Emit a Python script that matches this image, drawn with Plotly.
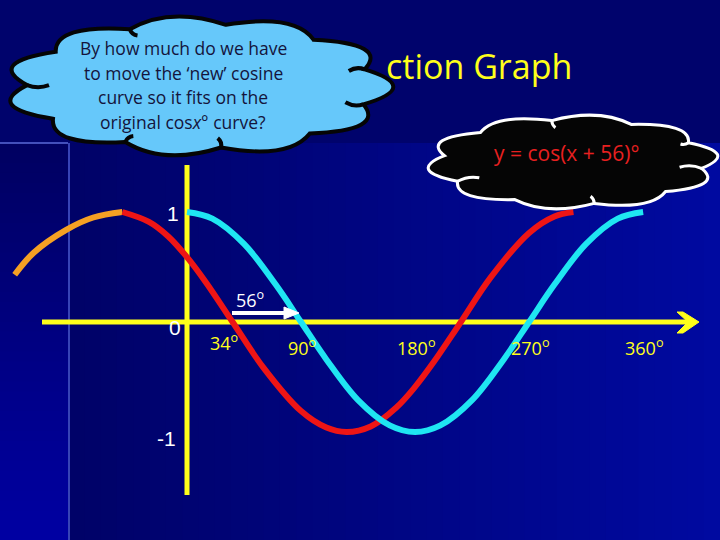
import math
import plotly.graph_objects as go

# ---------------- data ----------------
orange_deg = [-136, -121, -95, -74, -51]
orange_val = [0.43, 0.63, 0.84, 0.95, 1.0]

red_deg = [-51, -30, -15, 0, 15, 36, 60, 90, 110, 126, 145, 165, 180, 195, 215, 240, 270, 290, 305]
red_val = [1.0, 0.91, 0.78, 0.59, 0.36, 0.0, -0.41, -0.81, -0.96, -1.0, -0.95, -0.78, -0.59, -0.36, -0.02, 0.41, 0.81, 0.96, 1.0]

cyan_deg = [0, 20, 45, 70, 90, 110, 135, 160, 180, 200, 225, 250, 270, 290, 315, 340, 360]
cyan_val = [1.0, 0.94, 0.71, 0.34, 0.0, -0.34, -0.71, -0.94, -1.0, -0.94, -0.71, -0.34, 0.0, 0.34, 0.71, 0.94, 1.0]

tick_deg = [90, 180, 270, 360]
tick_labels = ["90", "180", "270", "360"]
y_tick_vals = [1, 0, -1]
y_tick_labels = ["1", "0", "-1"]
shift_label = "56"
root_label = "34"
root_deg = 34

title_text = "ction Graph"
question_lines = ["By how much do we have", "to move the \u2018new\u2019 cosine",
                  "curve so it fits on the", "original cos<i>x</i>\u00b0 curve?"]
equation_text = "y = cos(x + 56)\u00b0"

# ---------------- geometry (pixels) ----------------
W, H = 720, 540
PX0, PXD = 187, 1.267     # pixel of 0 deg, pixels per degree
PY0, PYU = 322, 110       # pixel of y=0, pixels per unit

x_range = [-PX0 / PXD, (W - PX0) / PXD]
y_range = [-(H - PY0) / PYU, PY0 / PYU]

YELLOW = "#ffff1a"
fig = go.Figure()

# curves
fig.add_trace(go.Scatter(x=orange_deg, y=orange_val, mode="lines",
                         line=dict(color="#f5a023", width=6, shape="spline"),
                         hoverinfo="skip", showlegend=False))
fig.add_trace(go.Scatter(x=red_deg, y=red_val, mode="lines",
                         line=dict(color="#ee1515", width=6, shape="spline"),
                         hoverinfo="skip", showlegend=False))
fig.add_trace(go.Scatter(x=cyan_deg, y=cyan_val, mode="lines",
                         line=dict(color="#1fe6f2", width=6, shape="spline"),
                         hoverinfo="skip", showlegend=False))
# dummy for pixel overlay axes
fig.add_trace(go.Scatter(x=[0], y=[0], xaxis="x2", yaxis="y2", mode="markers",
                         marker=dict(opacity=0), hoverinfo="skip", showlegend=False))

shapes = []

def px_rect(x0, y0, x1, y1, color, layer="below"):
    shapes.append(dict(type="rect", xref="x2", yref="y2", x0=x0, y0=y0, x1=x1, y1=y1,
                       fillcolor=color, line=dict(width=0), layer=layer))

# background
px_rect(0, 0, W, 143, "#00036c")
n = 40
for i in range(n):
    x0 = 68 + (W - 68) * i / n
    x1 = 68 + (W - 68) * (i + 1) / n + 1
    t = i / (n - 1)
    b = int(0x68 + (0xa0 - 0x68) * t)
    g = int(0x02 + 0x08 * t)
    px_rect(x0, 143, x1, H, f"rgb(0,{g},{b})")
for i in range(n):
    y0 = 143 + (H - 143) * i / n
    y1 = 143 + (H - 143) * (i + 1) / n + 1
    t = i / (n - 1)
    b = int(0x62 + (0xa2 - 0x62) * t)
    px_rect(0, y0, 68, y1, f"rgb(0,0,{b})")
shapes.append(dict(type="line", xref="x2", yref="y2", x0=0, y0=143, x1=68, y1=143,
                   line=dict(color="#5a6ad8", width=1.5), layer="below"))
shapes.append(dict(type="line", xref="x2", yref="y2", x0=69, y0=143, x1=69, y1=H,
                   line=dict(color="#4a5ad0", width=1.5), layer="below"))

# axes
shapes.append(dict(type="line", xref="x2", yref="y2", x0=42, y0=PY0, x1=688, y1=PY0,
                   line=dict(color=YELLOW, width=5), layer="below"))
shapes.append(dict(type="path", xref="x2", yref="y2",
                   path="M 677 312 L 683 312 L 699 322 L 683 333 L 677 333 L 688 322 Z",
                   fillcolor=YELLOW, line=dict(color=YELLOW, width=1), layer="below"))
shapes.append(dict(type="line", xref="x2", yref="y2", x0=PX0, y0=165, x1=PX0, y1=495,
                   line=dict(color=YELLOW, width=5), layer="below"))
for d in tick_deg:
    shapes.append(dict(type="line", xref="x", yref="y2", x0=d, y0=312, x1=d, y1=335,
                       line=dict(color=YELLOW, width=3), layer="below"))

# shift arrow
shapes.append(dict(type="line", xref="x2", yref="y2", x0=232, y0=313, x1=286, y1=313,
                   line=dict(color="white", width=4), layer="above"))
shapes.append(dict(type="path", xref="x2", yref="y2",
                   path="M 284 307 L 299 313 L 284 319 Z",
                   fillcolor="white", line=dict(color="white", width=1), layer="above"))


def cloud(cx, cy, rx, ry, nb, k, phase, fill, edge, ew, strokes):
    pts = []
    for i in range(nb + 1):
        a = phase + 2 * math.pi * i / nb
        pts.append((cx + rx * math.cos(a), cy + ry * math.sin(a)))
    p = f"M {pts[0][0]:.1f} {pts[0][1]:.1f}"
    for i in range(nb):
        a = phase + 2 * math.pi * (i + 0.5) / nb
        c = (cx + k * rx * math.cos(a), cy + k * ry * math.sin(a))
        p += f" Q {c[0]:.1f} {c[1]:.1f} {pts[i + 1][0]:.1f} {pts[i + 1][1]:.1f}"
    p += " Z"
    shapes.append(dict(type="path", xref="x2", yref="y2", path=p,
                       fillcolor=fill, line=dict(color=edge, width=ew), layer="above"))
    # callout-style inner strokes starting at bump junctions
    for i, ln, bend in strokes:
        x0, y0 = pts[i]
        dx, dy = cx - x0, cy - y0
        d = math.hypot(dx, dy)
        ux, uy = dx / d, dy / d
        x1, y1 = x0 + ux * ln, y0 + uy * ln
        mx, my = (x0 + x1) / 2 - uy * bend, (y0 + y1) / 2 + ux * bend
        shapes.append(dict(type="path", xref="x2", yref="y2",
                           path=f"M {x0:.1f} {y0:.1f} Q {mx:.1f} {my:.1f} {x1:.1f} {y1:.1f}",
                           line=dict(color=edge, width=ew), layer="above"))

# question cloud
cloud(199, 86, 172, 62, 11, 1.30, 0.3, "#66c8fa", "#050505", 4,
      [(10, 16, 4), (0, 18, -4), (2, 10, 3), (3, 10, -3), (5, 22, 4), (7, 10, 3)])
# equation cloud
cloud(573, 162, 130, 42, 10, 1.30, 0.15, "#050505", "white", 3,
      [(0, 22, 4), (2, 8, 2), (4, 22, -4), (7, 8, 2), (9, 8, -2)])

fig.update_layout(shapes=shapes)

ann = []
def A(text, x, y, size, color, family="Open Sans", xref="x2", yref="y2", xanchor="center"):
    ann.append(dict(text=text, x=x, y=y, xref=xref, yref=yref, showarrow=False,
                    font=dict(size=size, color=color, family=family),
                    xanchor=xanchor, yanchor="middle"))

A(title_text, 384, 66, 34, YELLOW, xanchor="left")
for i, line in enumerate(question_lines):
    A(line, 183, 48 + i * 24.5, 17.5, "#14143c")
A(equation_text, 566, 153, 21, "#e82020")

for d, lab in zip(tick_deg, tick_labels):
    A(f"{lab}<sup>o</sup>", d + 1, 347, 18, YELLOW, xref="x")
A(f"{root_label}<sup>o</sup>", root_deg - 5, 342, 18, YELLOW, xref="x")
A(f"{shift_label}<sup>o</sup>", 250, 299, 18, "white")

y_label_px = [(173, 213), (175, 327), (166, 438)]
for (lx, ly), lab in zip(y_label_px, y_tick_labels):
    A(lab, lx, ly, 21, "white", family="Liberation Sans Narrow, Liberation Sans")

fig.update_layout(annotations=ann)

fig.update_layout(
    width=W, height=H, margin=dict(l=0, r=0, t=0, b=0),
    paper_bgcolor="#000070", plot_bgcolor="#000070", showlegend=False,
    xaxis=dict(range=x_range, visible=False, fixedrange=True),
    yaxis=dict(range=y_range, visible=False, fixedrange=True),
    xaxis2=dict(range=[0, W], visible=False, overlaying="x", anchor="y2", fixedrange=True),
    yaxis2=dict(range=[H, 0], visible=False, overlaying="y", anchor="x2", fixedrange=True),
)

fig.write_html("out.html", config={"displayModeBar": False},
               post_script="document.body.style.margin='0';document.body.style.overflow='hidden';")
